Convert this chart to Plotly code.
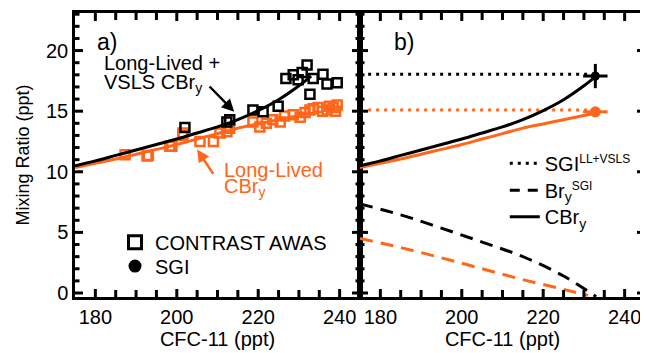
import plotly.graph_objects as go

# ---------------- data ----------------
ll_cfc = [187.3, 192.7, 193.0, 198.3, 198.8, 201.5, 201.5, 205.7, 209.0, 210.6, 212.3, 213.0,
          218.7, 220.4, 222.0, 223.6, 225.4, 226.5, 228.6, 230.3, 231.5, 232.7, 233.5, 234.7,
          235.8, 236.9, 237.5, 238.4, 239.0, 239.4]
ll_cbry = [11.4, 11.3, 11.35, 12.1, 12.1, 13.0, 13.2, 12.5, 12.5, 13.2, 13.3, 13.6,
           14.1, 13.7, 14.0, 14.3, 14.1, 14.6, 14.7, 14.5, 14.9, 15.1, 15.2, 15.3,
           15.0, 15.1, 15.4, 15.3, 15.0, 15.5]

tot_cfc = [202.0, 212.3, 213.0, 218.7, 221.2, 224.9, 226.8, 228.6, 229.8, 230.8, 232.0,
           232.7, 233.5, 235.9, 236.9, 239.4]
tot_cbry = [13.65, 14.1, 14.3, 15.1, 14.95, 15.4, 17.7, 18.0, 17.6, 18.2, 18.8,
            16.4, 17.7, 18.05, 17.25, 17.35]

fit_cfc = [175, 180, 185, 190, 195, 200, 205, 210, 215, 220, 225, 230, 233]
fit_tot = [10.5, 10.9, 11.35, 11.8, 12.25, 12.7, 13.2, 13.7, 14.3, 15.05, 15.95, 17.1, 17.9]
fit_ll = [10.35, 10.7, 11.05, 11.45, 11.85, 12.25, 12.7, 13.15, 13.6, 13.95, 14.3, 14.65, 14.85]

sgi_cfc = [177, 233]
sgi_tot = [18.05, 18.05]
sgi_ll = [15.1, 15.1]
sgi_pt_cfc = [232.8]
sgi_pt_tot = [17.9]
sgi_pt_ll = [14.95]
sgi_err_cfc = [3.0]
sgi_err_tot = [1.0]

bry_cfc_k = [175, 185, 195, 205, 215, 225, 233]
bry_k = [7.35, 6.45, 5.35, 4.2, 3.0, 1.4, -0.3]
bry_cfc_o = [175, 185, 195, 205, 215, 225, 231]
bry_o = [4.5, 3.75, 2.9, 2.0, 1.1, 0.3, -0.2]

x_tick_vals = [180, 200, 220, 240]
y_tick_vals = [0, 5, 10, 15, 20]
x_minor_vals = [185, 190, 195, 205, 210, 215, 225, 230, 235]
y_minor_vals = [1, 2, 3, 4, 6, 7, 8, 9, 11, 12, 13, 14, 16, 17, 18, 19, 21, 22, 23]

ORANGE = "#FF6619"
BLACK = "#000000"
FONT = "Liberation Sans, Arial, Helvetica, sans-serif"
DOT = "3px,5px"
DASH = "13px,8px"

fig = go.Figure()

fig.add_trace(go.Scatter(x=ll_cfc, y=ll_cbry, mode="markers", xaxis="x", yaxis="y",
                         marker=dict(symbol="square-open", size=9, color=ORANGE, line=dict(width=2.5, color=ORANGE)),
                         showlegend=False))
fig.add_trace(go.Scatter(x=tot_cfc, y=tot_cbry, mode="markers", xaxis="x", yaxis="y",
                         marker=dict(symbol="square-open", size=9, color=BLACK, line=dict(width=2.5, color=BLACK)),
                         showlegend=False))
fig.add_trace(go.Scatter(x=fit_cfc, y=fit_ll, mode="lines", xaxis="x", yaxis="y",
                         line=dict(color=ORANGE, width=3, shape="spline"), showlegend=False))
fig.add_trace(go.Scatter(x=fit_cfc, y=fit_tot, mode="lines", xaxis="x", yaxis="y",
                         line=dict(color=BLACK, width=3, shape="spline"), showlegend=False))

fig.add_trace(go.Scatter(x=sgi_cfc, y=sgi_tot, mode="lines", xaxis="x2", yaxis="y2",
                         line=dict(color=BLACK, width=3, dash=DOT), showlegend=False))
fig.add_trace(go.Scatter(x=sgi_cfc, y=sgi_ll, mode="lines", xaxis="x2", yaxis="y2",
                         line=dict(color=ORANGE, width=3, dash=DOT), showlegend=False))
fig.add_trace(go.Scatter(x=bry_cfc_k, y=bry_k, mode="lines", xaxis="x2", yaxis="y2",
                         line=dict(color=BLACK, width=3, dash=DASH, shape="spline"), showlegend=False))
fig.add_trace(go.Scatter(x=bry_cfc_o, y=bry_o, mode="lines", xaxis="x2", yaxis="y2",
                         line=dict(color=ORANGE, width=3, dash=DASH, shape="spline"), showlegend=False))
fig.add_trace(go.Scatter(x=fit_cfc, y=fit_ll, mode="lines", xaxis="x2", yaxis="y2",
                         line=dict(color=ORANGE, width=3, shape="spline"), showlegend=False))
fig.add_trace(go.Scatter(x=fit_cfc, y=fit_tot, mode="lines", xaxis="x2", yaxis="y2",
                         line=dict(color=BLACK, width=3, shape="spline"), showlegend=False))
fig.add_trace(go.Scatter(x=sgi_pt_cfc, y=sgi_pt_ll, mode="markers", xaxis="x2", yaxis="y2",
                         marker=dict(symbol="circle", size=11, color=ORANGE),
                         error_x=dict(type="data", array=sgi_err_cfc, color=ORANGE, thickness=3, width=0),
                         showlegend=False))
fig.add_trace(go.Scatter(x=sgi_pt_cfc, y=sgi_pt_tot, mode="markers", xaxis="x2", yaxis="y2",
                         marker=dict(symbol="circle", size=9, color=BLACK),
                         error_x=dict(type="data", array=sgi_err_cfc, color=BLACK, thickness=3, width=0),
                         error_y=dict(type="data", array=sgi_err_tot, color=BLACK, thickness=3, width=0),
                         showlegend=False))

fig.add_trace(go.Scatter(x=[None], y=[None], mode="markers", name="CONTRAST AWAS", legend="legend",
                         marker=dict(symbol="square-open", size=13, color=BLACK, line=dict(width=3, color=BLACK))))
fig.add_trace(go.Scatter(x=[None], y=[None], mode="markers", name="SGI", legend="legend2",
                         marker=dict(symbol="circle", size=13, color=BLACK)))
fig.add_trace(go.Scatter(x=[None], y=[None], mode="lines",
                         name="SGI<sup><span style='font-size:12px'>LL+VSLS</span></sup>", legend="legend3",
                         xaxis="x2", yaxis="y2", line=dict(color=BLACK, width=3, dash=DOT)))
fig.add_trace(go.Scatter(x=[None], y=[None], mode="lines",
                         name="Br<sub>y</sub><sup><span style='font-size:12px'>SGI</span></sup>", legend="legend4",
                         xaxis="x2", yaxis="y2", line=dict(color=BLACK, width=3, dash="10px,8px")))
fig.add_trace(go.Scatter(x=[None], y=[None], mode="lines", name="CBr<sub>y</sub>", legend="legend5",
                         xaxis="x2", yaxis="y2", line=dict(color=BLACK, width=3)))

xax = dict(range=[175, 245], tickmode="array", tickvals=x_tick_vals, ticks="",
           showline=True, linewidth=2.5, linecolor=BLACK, mirror=True, showgrid=False, zeroline=False,
           tickfont=dict(size=20, color=BLACK, family=FONT),
           title=dict(text="CFC-11 (ppt)", font=dict(size=20, color=BLACK, family=FONT), standoff=3))
yax = dict(range=[-0.33, 23.1], tickmode="array", tickvals=y_tick_vals, ticks="",
           showline=True, linewidth=2.5, linecolor=BLACK, mirror=True, showgrid=False, zeroline=False,
           tickfont=dict(size=20, color=BLACK, family=FONT))

# inward tick marks on all four sides of each panel (length given as a fraction of the panel size:
# panel is 285 px wide and 284.5 px tall)
PW, PH = 285.0, 284.5
tick_line = dict(color=BLACK, width=3)
shapes = []
for xr, yr in (("x", "y"), ("x2", "y2")):
    for vals, length in ((x_tick_vals, 8), (x_minor_vals, 7)):
        f = length / PH
        for v in vals:
            shapes.append(dict(type="line", xref=xr, yref=yr + " domain", x0=v, x1=v,
                               y0=0, y1=f, line=tick_line, layer="above"))
            shapes.append(dict(type="line", xref=xr, yref=yr + " domain", x0=v, x1=v,
                               y0=1, y1=1 - f, line=tick_line, layer="above"))
    for vals, length in ((y_tick_vals, 8), (y_minor_vals, 4.5)):
        f = length / PW
        for v in vals:
            shapes.append(dict(type="line", xref=xr + " domain", yref=yr, y0=v, y1=v,
                               x0=0, x1=f, line=tick_line, layer="above"))
            shapes.append(dict(type="line", xref=xr + " domain", yref=yr, y0=v, y1=v,
                               x0=1, x1=1 - f, line=tick_line, layer="above"))


def leg(x, y):
    return dict(x=x, y=y, xanchor="left", yanchor="middle", bgcolor="rgba(0,0,0,0)",
                font=dict(size=20, color=BLACK, family=FONT), itemwidth=30)


fig.update_layout(
    template="none",
    width=640, height=345,
    margin=dict(l=67, r=3, t=4.5, b=56),
    paper_bgcolor="white", plot_bgcolor="white",
    font=dict(family=FONT, size=20, color=BLACK),
    xaxis=dict(xax, domain=[0, 0.5], anchor="y"),
    xaxis2=dict(xax, domain=[0.5, 1], anchor="y2"),
    yaxis=dict(yax, domain=[0, 1], anchor="x",
               title=dict(text="Mixing Ratio (ppt)", font=dict(size=18, color=BLACK, family=FONT), standoff=12)),
    yaxis2=dict(yax, domain=[0, 1], anchor="x2", showticklabels=False),
    legend=leg(0.0702, 0.193),
    legend2=leg(0.0702, 0.109),
    legend3=leg(0.754, 0.471),
    legend4=leg(0.754, 0.376),
    legend5=leg(0.754, 0.283),
    shapes=shapes,
)

ann = [
    dict(text="a)", x=179.9, y=20.7, xref="x", yref="y", xanchor="left", yanchor="middle",
         showarrow=False, font=dict(size=23)),
    dict(text="b)", x=182.9, y=20.7, xref="x2", yref="y2", xanchor="left", yanchor="middle",
         showarrow=False, font=dict(size=23)),
    dict(text="Long-Lived +", x=181.6, y=18.95, xref="x", yref="y", xanchor="left", yanchor="middle",
         showarrow=False, font=dict(size=20)),
    dict(text="VSLS CBr<sub>y</sub>", x=181.6, y=17.3, xref="x", yref="y", xanchor="left", yanchor="middle",
         showarrow=False, font=dict(size=20)),
    dict(text="Long-Lived", x=211.1, y=10.12, xref="x", yref="y", xanchor="left", yanchor="middle",
         showarrow=False, font=dict(size=20, color=ORANGE)),
    dict(text="CBr<sub>y</sub>", x=211.1, y=8.7, xref="x", yref="y", xanchor="left", yanchor="middle",
         showarrow=False, font=dict(size=20, color=ORANGE)),
    dict(text="", x=214.1, y=14.95, ax=207.7, ay=17.16, xref="x", yref="y", axref="x", ayref="y",
         showarrow=True, arrowhead=2, arrowsize=1, arrowwidth=2.5, arrowcolor=BLACK),
    dict(text="", x=205.0, y=11.84, ax=209.2, ay=9.7, xref="x", yref="y", axref="x", ayref="y",
         showarrow=True, arrowhead=2, arrowsize=1, arrowwidth=2.5, arrowcolor=ORANGE),
]
fig.update_layout(annotations=ann)

fig.write_html("out.html")
